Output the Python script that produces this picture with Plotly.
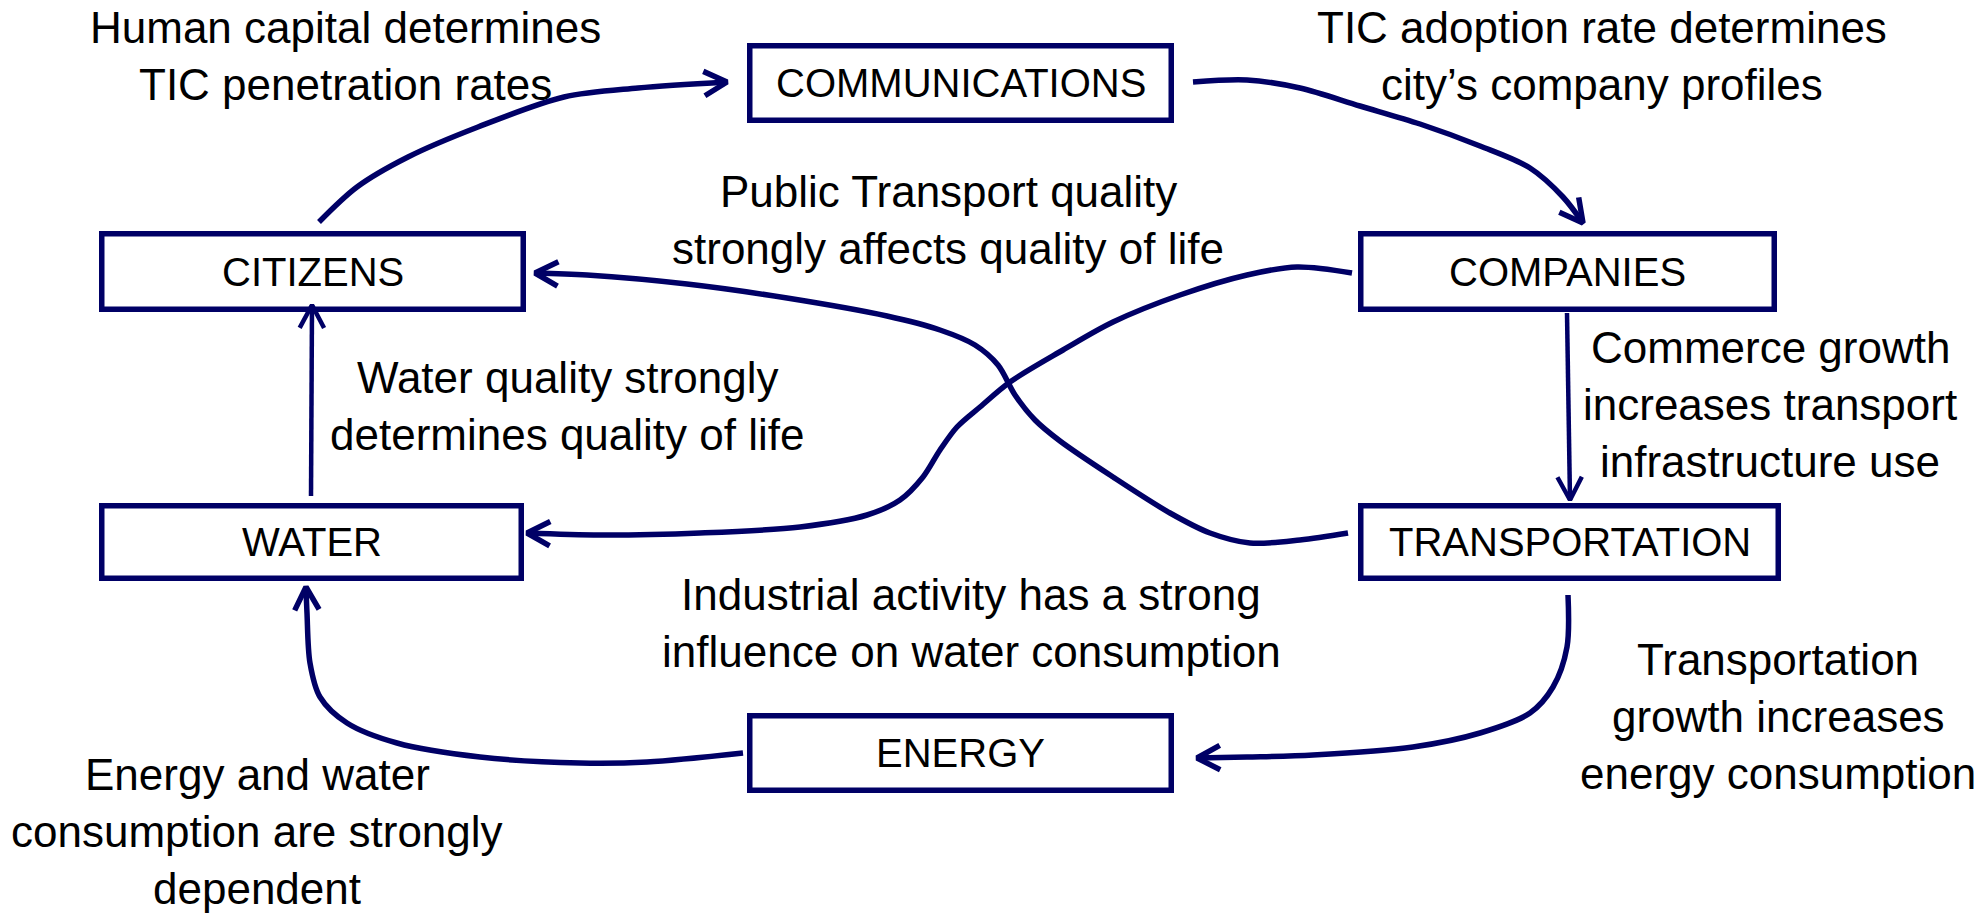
import math
import plotly.graph_objects as go

W, H = 1983, 913
NAVY = "#000066"
FONT = "Liberation Sans, Arial, sans-serif"

# ---------------- nodes (boxes) ----------------
NODE_NAMES = ["COMMUNICATIONS", "CITIZENS", "COMPANIES", "WATER", "TRANSPORTATION", "ENERGY"]
NODE_X0 = [747, 99, 1358, 99, 1358, 747]
NODE_X1 = [1174, 526, 1777, 524, 1781, 1174]
NODE_Y0 = [43, 231, 231, 503, 503, 713]
NODE_Y1 = [123, 312, 312, 581, 581, 793]

# ---------------- connectors (measured path points, last point = arrow tip) ----------------
CIT_COMM_X = [319, 357, 408, 478, 564, 638, 727]
CIT_COMM_Y = [222, 187, 157, 127, 97, 88, 82]

COMM_COMP_X = [1193, 1247, 1300, 1360, 1420, 1480, 1530, 1563, 1583]
COMM_COMP_Y = [82, 80, 88, 106, 124, 146, 168, 197, 223]

COMP_TRANS_X = [1567, 1570]
COMP_TRANS_Y = [313, 500]

COMP_WATER_X = [1352, 1297, 1247, 1180, 1113, 1063, 1010, 980, 957, 940, 923, 900, 867, 800, 700, 600, 527]
COMP_WATER_Y = [273, 267, 275, 295, 322, 350, 382, 407, 427, 450, 477, 500, 515, 527, 533, 535, 533]

TRANS_CIT_X = [1348, 1300, 1250, 1210, 1170, 1113, 1060, 1035, 1015, 998, 975, 940, 887, 787, 687, 587, 535]
TRANS_CIT_Y = [533, 540, 543, 533, 513, 477, 441, 420, 395, 365, 345, 330, 316, 298, 284, 275, 273]

WATER_CIT_X = [311, 312]
WATER_CIT_Y = [496, 305]

ENERGY_WATER_X = [743, 647, 580, 480, 397, 347, 320, 310, 307, 306]
ENERGY_WATER_Y = [753, 762, 763, 757, 743, 723, 697, 663, 613, 587]

TRANS_ENERGY_X = [1568, 1567, 1553, 1530, 1480, 1413, 1313, 1247, 1197]
TRANS_ENERGY_Y = [595, 647, 687, 713, 733, 747, 755, 757, 758]

LINKS_X = [CIT_COMM_X, COMM_COMP_X, COMP_TRANS_X, COMP_WATER_X,
           TRANS_CIT_X, WATER_CIT_X, ENERGY_WATER_X, TRANS_ENERGY_X]
LINKS_Y = [CIT_COMM_Y, COMM_COMP_Y, COMP_TRANS_Y, COMP_WATER_Y,
           TRANS_CIT_Y, WATER_CIT_Y, ENERGY_WATER_Y, TRANS_ENERGY_Y]
LINK_WIDTH = [5.5, 5.5, 4.5, 5.5, 5.5, 4.5, 5.5, 5.5]

# ---------------- notes ----------------
NOTE_LINES = [
    ["Human capital determines", "TIC penetration rates"],
    ["TIC adoption rate determines", "city\u2019s company profiles"],
    ["Public Transport quality", "strongly affects quality of life"],
    ["Water quality strongly", "determines quality of life"],
    ["Commerce growth", "increases transport", "infrastructure use"],
    ["Industrial activity has a strong", "influence on water consumption"],
    ["Transportation", "growth increases", "energy consumption"],
    ["Energy and water", "consumption are strongly", "dependent"],
]
NOTE_X = [345, 1602, 948, 567, 1770, 971, 1778, 257]
NOTE_BASE = [43, 43, 207, 393, 363, 610, 675, 790]
LINE_STEP = 57

NOTE_SIZE = 44
LABEL_SIZE = 40
ARROW_LEN = 26
ARROW_HALF = math.radians(28)

fig = go.Figure()

# connectors
for xs, ys, lw in zip(LINKS_X, LINKS_Y, LINK_WIDTH):
    fig.add_trace(go.Scatter(
        x=xs, y=ys, mode="lines",
        line=dict(color=NAVY, width=lw, shape="spline" if len(xs) > 2 else "linear", smoothing=0.9),
        hoverinfo="skip", showlegend=False))
    # open arrow head at the last point
    tx, ty = xs[-1], ys[-1]
    px, py = xs[-2], ys[-2]
    dx, dy = px - tx, py - ty
    d = math.hypot(dx, dy)
    bx, by = dx / d, dy / d
    ax, ay = [], []
    for sgn in (1, -1):
        c, s = math.cos(sgn * ARROW_HALF), math.sin(sgn * ARROW_HALF)
        rx, ry = bx * c - by * s, bx * s + by * c
        ax.append(tx + ARROW_LEN * rx)
        ay.append(ty + ARROW_LEN * ry)
    fig.add_trace(go.Scatter(
        x=[ax[0], tx, ax[1]], y=[ay[0], ty, ay[1]], mode="lines",
        line=dict(color=NAVY, width=lw),
        hoverinfo="skip", showlegend=False))

# boxes
BORDER = 5.5
for name, x0, x1, y0, y1 in zip(NODE_NAMES, NODE_X0, NODE_X1, NODE_Y0, NODE_Y1):
    h = BORDER / 2
    fig.add_shape(type="rect", xref="x", yref="y",
                  x0=x0 + h, x1=x1 - h, y0=y0 + h, y1=y1 - h,
                  line=dict(color=NAVY, width=BORDER), fillcolor="rgba(0,0,0,0)")
    fig.add_annotation(x=(x0 + x1) / 2, y=(y0 + y1) / 2, xref="x", yref="y",
                       text=name, showarrow=False, xanchor="center", yanchor="middle",
                       font=dict(family=FONT, size=LABEL_SIZE, color="black"))

# notes
for lines, cx, base in zip(NOTE_LINES, NOTE_X, NOTE_BASE):
    for i, txt in enumerate(lines):
        b = base + i * LINE_STEP
        fig.add_annotation(x=cx, y=b - 0.3465 * NOTE_SIZE, xref="x", yref="y",
                           text=txt, showarrow=False, xanchor="center", yanchor="middle",
                           font=dict(family=FONT, size=NOTE_SIZE, color="black"))

fig.update_xaxes(range=[0, W], visible=False, fixedrange=True)
fig.update_yaxes(range=[H, 0], visible=False, fixedrange=True)
fig.update_layout(width=W, height=H, margin=dict(l=0, r=0, t=0, b=0, pad=0),
                  paper_bgcolor="white", plot_bgcolor="white", showlegend=False)

fig.write_html("out.html", config={"displayModeBar": False, "staticPlot": True},
               post_script="document.body.style.margin='0';document.body.style.overflow='hidden';")
